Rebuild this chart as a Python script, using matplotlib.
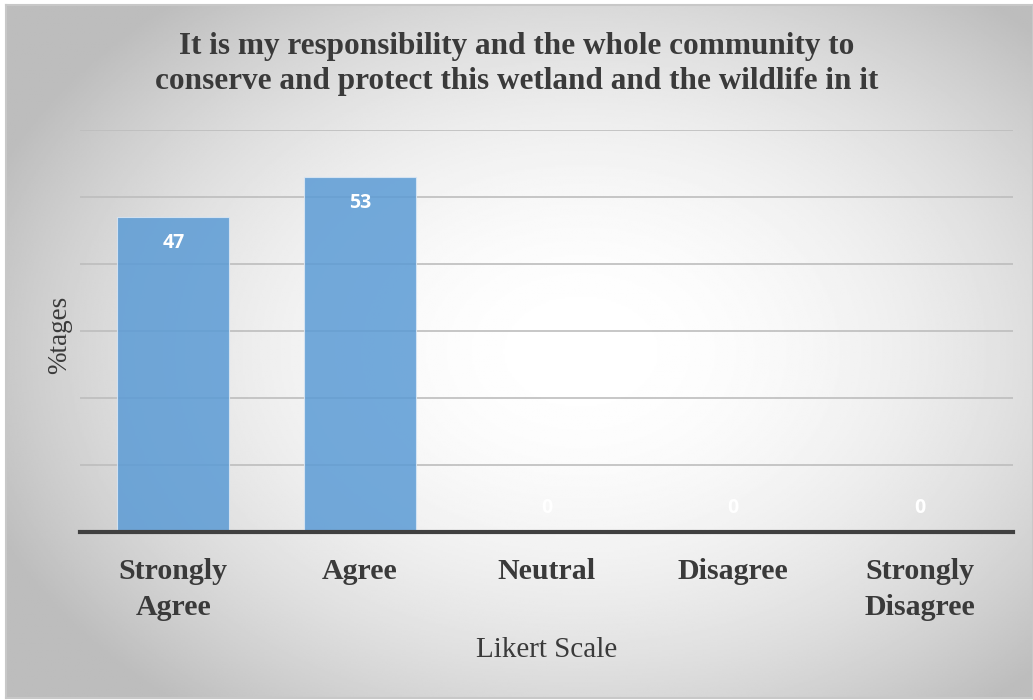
import matplotlib.pyplot as plt
import numpy as np

categories = ["Strongly\nAgree", "Agree", "Neutral", "Disagree", "Strongly\nDisagree"]
values = [47, 53, 0, 0, 0]
title = "It is my responsibility and the whole community to\nconserve and protect this wetland and the wildlife in it"

W, H = 1033, 700
fig = plt.figure(figsize=(W / 100, H / 100), dpi=100)
fig.patch.set_facecolor("white")

# radial gradient background, like the Excel chart area
bg = fig.add_axes([6 / W, 2 / H, (W - 6) / W, (H - 7) / H])
yy, xx = np.mgrid[0:1:400j, 0:1:600j]
d = np.sqrt(((xx - 0.56) / 0.62) ** 2 + ((yy - 0.5) / 0.66) ** 2)
d = np.clip(d, 0, 1)
shade = 1.0 - 0.26 * d ** 2.0
bg.imshow(shade, cmap="gray", vmin=0, vmax=1, aspect="auto", extent=[0, 1, 0, 1])
bg.set_xlim(0, 1)
bg.set_ylim(0, 1)
bg.set_xticks([])
bg.set_yticks([])
for s in bg.spines.values():
    s.set_color("#c8c8c8")
    s.set_linewidth(1.5)

ax = fig.add_axes([80 / W, (H - 532) / H, 933 / W, (532 - 130) / H])
ax.patch.set_alpha(0)
x = np.arange(len(categories))
bars = ax.bar(x, values, width=0.6, color="#5b9bd5", alpha=0.85,
              edgecolor="#dbe8f5", linewidth=0.8, zorder=2)
ax.set_xlim(-0.5, len(categories) - 0.5)
ax.set_ylim(0, 60)
ax.set_yticks(np.arange(0, 61, 10))
ax.yaxis.grid(True, color="#bdbdbd", linewidth=1.2, zorder=0)
ax.set_axisbelow(True)
ax.tick_params(axis="y", length=0, labelleft=False)
ax.tick_params(axis="x", length=0, pad=19)
for s in ["top", "right", "left"]:
    ax.spines[s].set_visible(False)
ax.spines["bottom"].set_color("#404040")
ax.spines["bottom"].set_linewidth(3)
ax.spines["bottom"].set_zorder(3)

ax.set_xticks(x)
ax.set_xticklabels(categories, fontfamily="Liberation Serif", fontweight="bold",
                   fontsize=21.5, color="#3a3a3a", linespacing=1.4)

# inside-end labels; zero values sit just above the axis
for xi, v in zip(x, values):
    off = -26 if v > 0 else 24
    ax.annotate(str(v), (xi, v), xytext=(0, off), textcoords="offset pixels",
                ha="center", va="center", fontfamily="Open Sans", fontweight="bold",
                fontsize=14, color="white", zorder=4)

fig.text(0.5, (H - 64) / H, title, ha="center", va="center", fontfamily="Liberation Serif",
         fontweight="bold", fontsize=22.5, color="#3a3a3a", linespacing=1.3)
fig.text(547 / W, (H - 650) / H, "Likert Scale", ha="center", va="center",
         fontfamily="Liberation Serif", fontsize=21, color="#3a3a3a")
fig.text(60 / W, (H - 335) / H, "%tages", ha="center", va="center", rotation=90,
         fontfamily="Liberation Serif", fontsize=19.5, color="#3a3a3a")

fig.savefig("out.png", dpi=100)
